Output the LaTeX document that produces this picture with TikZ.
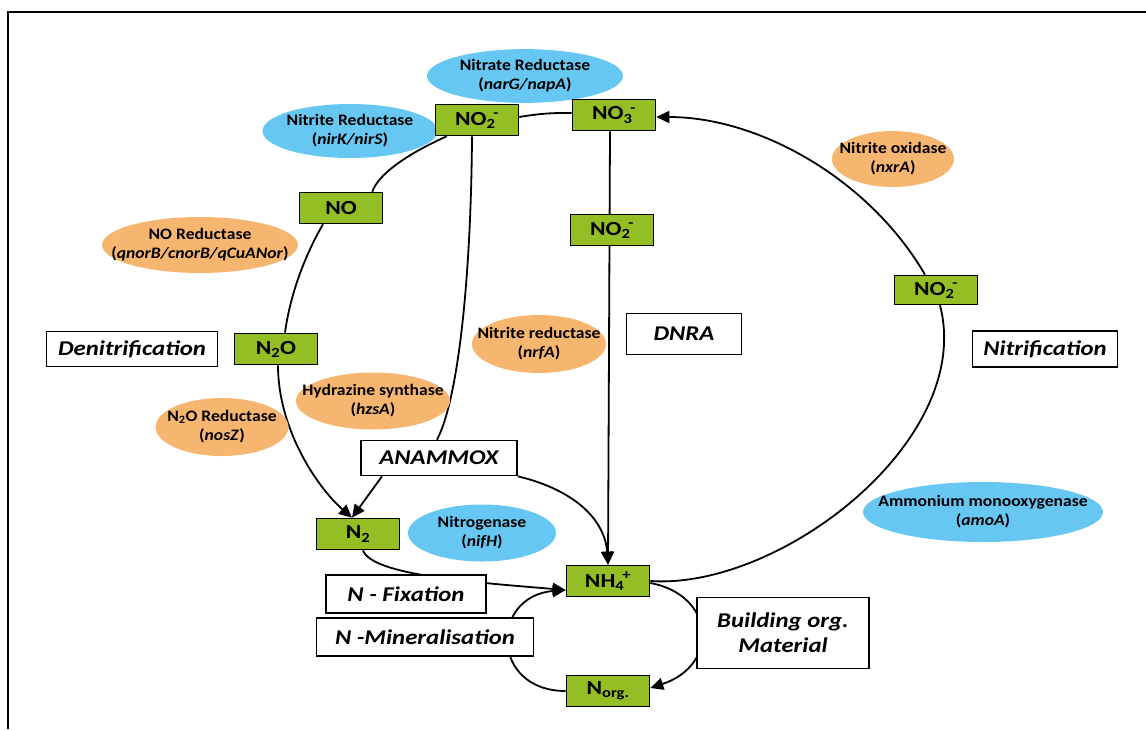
\documentclass[tikz,border=0pt]{standalone}
\usepackage{fontspec}
\setmainfont{Carlito}
\newfontfamily\widefont{Carlito}[FakeStretch=1.18]
\newfontfamily\enzfont{Carlito}[FakeStretch=1.1]
\usetikzlibrary{shapes.geometric,arrows.meta,backgrounds}

\definecolor{enzblue}{RGB}{102,200,242}
\definecolor{enzorange}{RGB}{247,182,112}
\definecolor{chemgreen}{RGB}{147,190,36}

\newcommand{\subsup}[2]{\textsubscript{#1}\kern-0.1em\textsuperscript{#2}}
\newcommand{\enz}[2]{\makebox[0pt]{\begin{tabular}{@{}c@{}}#1\\#2\end{tabular}}}

\tikzset{
  enz/.style={ellipse, inner sep=0pt, font=\enzfont\fontsize{16}{19}\selectfont\bfseries},
  blueenz/.style={enz, fill=enzblue},
  orangeenz/.style={enz, fill=enzorange},
  chem/.style={draw, line width=1.6pt, fill=chemgreen, minimum width=83pt, minimum height=31pt, inner sep=0pt, font=\widefont\fontsize{20}{20}\selectfont\bfseries},
  proc/.style={draw, line width=1.6pt, fill=white, inner sep=0pt, align=center, font=\widefont\fontsize{21}{25}\selectfont\bfseries\itshape},
  flow/.style={line width=1.8pt},
  >={Triangle[length=13pt,width=12pt]}
}

\begin{document}
\begin{tikzpicture}[x=1pt,y=-1pt]
\useasboundingbox (0,0) rectangle (1146,729);
\draw[line width=1.2pt] (1146,12) -- (8,12) -- (8,729);

\node[blueenz, minimum width=196pt, minimum height=52pt] (narE) at (525,76) {\enz{Nitrate Reductase}{(\textit{narG/napA})}};
\node[blueenz, minimum width=175pt, minimum height=54pt] (nirE) at (350,131) {\enz{Nitrite Reductase}{(\textit{nirK/nirS})}};
\node[orangeenz, minimum width=196pt, minimum height=56pt] (norE) at (200,245) {\enz{NO Reductase}{(\textit{qnorB/cnorB/qCuANor})}};
\node[orangeenz, minimum width=122pt, minimum height=56pt] (nxrE) at (893,159) {\enz{Nitrite oxidase}{(\textit{nxrA})}};
\node[orangeenz, minimum width=134pt, minimum height=58pt] (nrfE) at (539,344) {\enz{Nitrite reductase}{(\textit{nrfA})}};
\node[orangeenz, minimum width=154pt, minimum height=57pt] (hzsE) at (373,401) {\enz{Hydrazine synthase}{(\textit{hzsA})}};
\node[orangeenz, minimum width=133pt, minimum height=58pt] (nosE) at (222,427) {\enz{N\textsubscript{2}O Reductase}{(\textit{nosZ})}};
\node[blueenz, minimum width=148pt, minimum height=57pt] (nifE) at (482,533) {\enz{Nitrogenase}{(\textit{nifH})}};
\node[blueenz, minimum width=240pt, minimum height=60pt] (amoE) at (983,512) {\enz{Ammonium monooxygenase}{(\textit{amoA})}};

\node[chem] (NO2t) at (477,120) {NO\subsup{2}{-}};
\node[chem] (NO3) at (614,115) {NO\subsup{3}{-}};
\node[chem] (NO) at (341,208) {NO};
\node[chem] (NO2m) at (612,230) {NO\subsup{2}{-}};
\node[chem, minimum height=29pt] (NO2r) at (936,290) {NO\subsup{2}{-}};
\node[chem] (N2O) at (276,349) {N\textsubscript{2}O};
\node[chem] (N2) at (358,534) {N\textsubscript{2}};
\node[chem] (NH4) at (608,581) {NH\subsup{4}{+}};
\node[chem] (Norg) at (608,691) {N\textsubscript{org.}};

\node[proc, minimum width=171pt, minimum height=35pt] (Denit) at (132,349) {Denitrification};
\node[proc, minimum width=115pt, minimum height=41pt] (DNRA) at (684,334) {DNRA};
\node[proc, minimum width=145pt, minimum height=36pt] (Nitrif) at (1045,349) {Nitrification};
\node[proc, minimum width=156pt, minimum height=35pt] (Anammox) at (439,458) {ANAMMOX};
\node[proc, minimum width=160pt, minimum height=38pt] (NFix) at (406,594) {N - Fixation};
\node[proc, minimum width=217pt, minimum height=38pt] (NMin) at (425,637) {N -Mineralisation};
\node[proc, minimum width=172pt, minimum height=71pt] (Build) at (783,633) {Building org.\\Material};

\begin{scope}[on background layer]
\draw[flow] ([yshift=3pt]NO2t.east) to[bend left=5] ([yshift=2pt]NO3.west);

\draw[flow] ([xshift=12pt]NO2t.south west) .. controls (405,155) and (378,175) .. ([xshift=-11pt]NO.north east);
\draw[flow] ([xshift=-18pt]NO.south) .. controls (305,255) and (290,295) .. ([xshift=9pt]N2O.north);
\draw[flow,->] ([xshift=2pt]N2O.south) .. controls (278,430) and (318,488) .. ([xshift=-6pt]N2.north);

\draw[flow] ([xshift=-5pt]NO2t.south) .. controls (471,280) and (458,400) .. ([xshift=-2pt]Anammox.north);
\draw[flow,->] ([xshift=-57pt]Anammox.south) -- ([xshift=-6pt]N2.north);
\draw[flow,->] (Anammox.south east) .. controls (575,490) and (605,520) .. (NH4.north);

\draw[flow,->] ([xshift=-4pt]NO3.south) -- (NH4.north);

\draw[flow,->] ([xshift=5pt]N2.south) .. controls (372,575) and (470,582) .. ([yshift=-9pt]NH4.west);
\draw[flow,->] (Norg.west) .. controls (490,691) and (490,596) .. ([yshift=-9pt]NH4.west);
\draw[flow,->] ([yshift=-2pt]NH4.east) .. controls (715,595) and (720,665) .. ([yshift=3pt]Norg.east);

\draw[flow] (NH4.east) .. controls (780,590) and (975,440) .. ([xshift=4pt]NO2r.south);
\draw[flow,->] ([xshift=-11pt]NO2r.north) .. controls (870,180) and (760,117) .. ([yshift=-2pt]NO3.east);
\end{scope}
\end{tikzpicture}
\end{document}
